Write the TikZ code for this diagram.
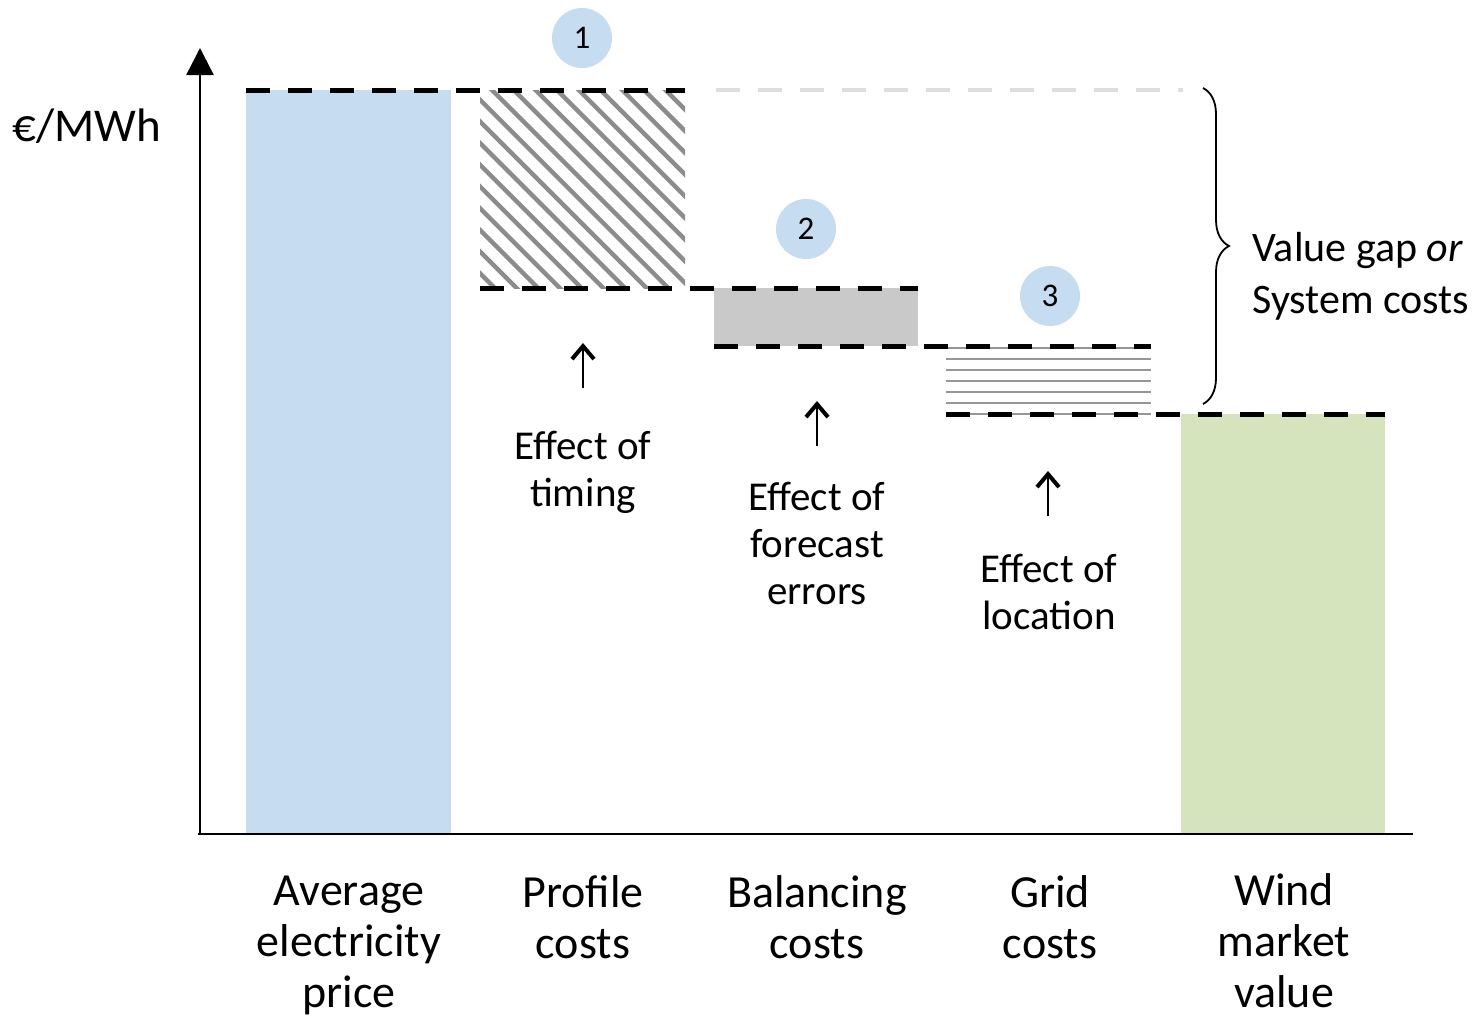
\documentclass[tikz,border=0pt]{standalone}
\usepackage{fontspec}
\setmainfont{Carlito}
\usetikzlibrary{arrows.meta,decorations.pathreplacing}
\definecolor{avgblue}{RGB}{198,220,240}
\definecolor{windgreen}{RGB}{214,228,189}
\definecolor{balgray}{RGB}{201,201,201}
\definecolor{hatchgray}{RGB}{140,140,140}
\definecolor{gridgray}{RGB}{150,150,150}
\definecolor{topgray}{RGB}{222,222,222}
\begin{document}
\begin{tikzpicture}[x=0.5pt,y=-0.5pt,
  level/.style={line width=2.5pt,dash pattern=on 12pt off 9pt},
  marker/.style={circle,fill=avgblue,minimum size=30pt,inner sep=0pt,font=\fontsize{16.5}{18}\selectfont},
  effect/.style={align=center,anchor=base,inner sep=0pt,font=\fontsize{20.5}{23.5}\selectfont},
  category/.style={align=center,anchor=base,inner sep=0pt,font=\fontsize{23}{25.5}\selectfont},
  pointer/.style={line width=1pt,-{Straight Barb[length=6.5pt,width=11pt,line width=2pt]}}]
\useasboundingbox (0,0) rectangle (1478,1017);
% bars
\fill[avgblue] (246,90) rectangle (451,834);
\fill[windgreen] (1181,414) rectangle (1385,834);
\fill[balgray] (714,288) rectangle (918,346);
% profile costs, hatched
\begin{scope}
  \clip (480,90) rectangle (685,288);
  \foreach \x in {270,291.7,...,700}
    \draw[hatchgray,line width=2.2pt] (\x,85) -- (\x+210,295);
\end{scope}
% grid costs, striped
\foreach \y in {0,...,6}
  \draw[gridgray,line width=1.4pt] (946,348+11*\y) -- (1151,348+11*\y);
% price levels
\draw[level] (246,90) -- (685,90);
\draw[level,topgray,line width=2pt] (716,90) -- (1183,90);
\draw[level] (480,288) -- (918,288);
\draw[level] (714,346) -- (1151,346);
\draw[level] (946,414) -- (1385,414);
% axes
\draw[line width=1.2pt,-{Triangle[length=13.5pt,width=13.5pt]}] (200,835) -- (200,48);
\draw[line width=1.2pt] (198,834) -- (1413,834);
\node[anchor=base west,inner sep=0pt,font=\fontsize{23.5}{26}\selectfont] (unit) at (12,141) {€/MWh};
% numbered markers
\node[marker] (m1) at (582,38) {1};
\node[marker] (m2) at (806,229) {2};
\node[marker] (m3) at (1050,296) {3};
% effects (base is the last line)
\node[effect] (timing) at (583,506) {Effect of\\timing};
\node[effect] (forecast) at (817,604) {Effect of\\forecast\\errors};
\node[effect] (location) at (1049,629) {Effect of\\location};
\coordinate (p1a) at (583,388);
\coordinate (p1b) at (583,343);
\coordinate (p2a) at (817,446);
\coordinate (p2b) at (817,401);
\coordinate (p3a) at (1048,516);
\coordinate (p3b) at (1048,471);
\draw[pointer] (p1a) -- (p1b);
\draw[pointer] (p2a) -- (p2b);
\draw[pointer] (p3a) -- (p3b);
% value gap
\draw[line width=0.9pt,decorate,decoration={brace,amplitude=13pt}] (1203,88) -- (1203,404);
\node[anchor=base west,align=left,inner sep=0pt,font=\fontsize{21}{26}\selectfont] (gap) at (1252,313) {Value gap \textit{or}\\System costs};
% categories
\node[category] (avg) at (349,1007) {Average\\electricity\\price};
\node[category] (profile) at (583,958) {Profile\\costs};
\node[category] (balancing) at (817,958) {Balancing\\costs};
\node[category] (grid) at (1050,958) {Grid\\costs};
\node[category] (wind) at (1284,1007) {Wind\\market\\value};
\end{tikzpicture}
\end{document}
